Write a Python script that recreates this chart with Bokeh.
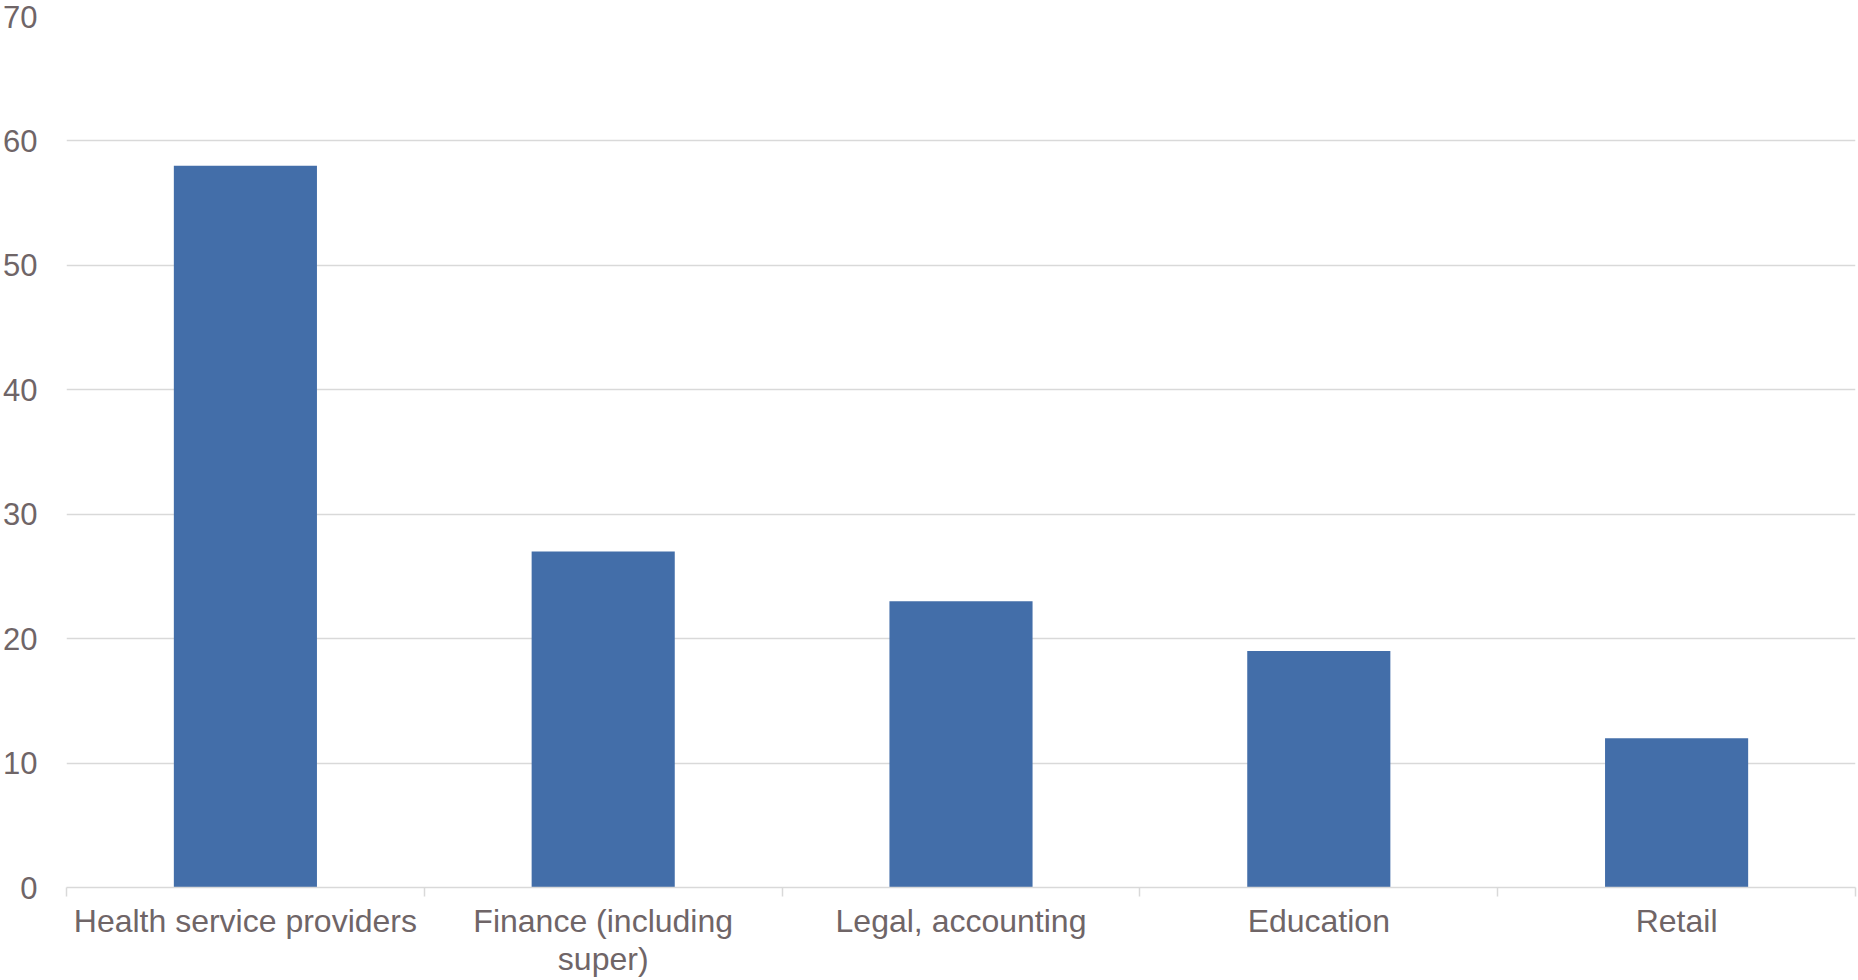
from bokeh.plotting import figure
from bokeh.models import Range1d, FixedTicker
from bokeh.embed import file_html
from bokeh.resources import INLINE

categories = ["Health service providers", "Finance (including\nsuper)", "Legal, accounting", "Education", "Retail"]
values = [58, 27, 23, 19, 12]
y_ticks = [0, 10, 20, 30, 40, 50, 60, 70]

positions = [i + 0.5 for i in range(len(categories))]
boundaries = [float(i) for i in range(len(categories) + 1)]

TEXT = "#6f6567"
GRID = "#d9d9d9"
FONT = "Liberation Sans"

p = figure(width=1858, height=980, output_backend="svg", toolbar_location=None,
           x_range=Range1d(0, len(categories)), y_range=Range1d(0, 70),
           min_border_left=65, min_border_right=3, min_border_top=16, min_border_bottom=86)
p.outline_line_color = None
p.background_fill_color = "white"
p.border_fill_color = "white"

p.vbar(x=positions, top=values, width=0.4, bottom=0, fill_color="#436ea9", line_color=None)

p.xgrid.visible = False
p.ygrid.grid_line_color = GRID
p.ygrid.grid_line_width = 1.5
p.ygrid.ticker = FixedTicker(ticks=y_ticks)

ya = p.yaxis[0]
ya.ticker = FixedTicker(ticks=y_ticks)
ya.axis_line_color = None
ya.major_tick_line_color = None
ya.minor_tick_line_color = None
ya.major_tick_out = 0
ya.major_tick_in = 0
ya.major_label_standoff = 29
ya.major_label_text_font = FONT
ya.major_label_text_font_size = "31px"
ya.major_label_text_color = TEXT

xa = p.xaxis[0]
xa.ticker = FixedTicker(ticks=positions, minor_ticks=boundaries)
xa.major_label_overrides = {pos: cat for pos, cat in zip(positions, categories)}
xa.axis_line_color = GRID
xa.axis_line_width = 1.5
xa.major_tick_line_color = None
xa.major_tick_out = 0
xa.major_tick_in = 0
xa.minor_tick_line_color = GRID
xa.minor_tick_line_width = 1.5
xa.minor_tick_out = 9
xa.minor_tick_in = 0
xa.major_label_standoff = 6
xa.major_label_text_font = FONT
xa.major_label_text_font_size = "32px"
xa.major_label_text_color = TEXT
xa.major_label_text_line_height = 1.08

open("out.html", "w").write(file_html(p, INLINE))
